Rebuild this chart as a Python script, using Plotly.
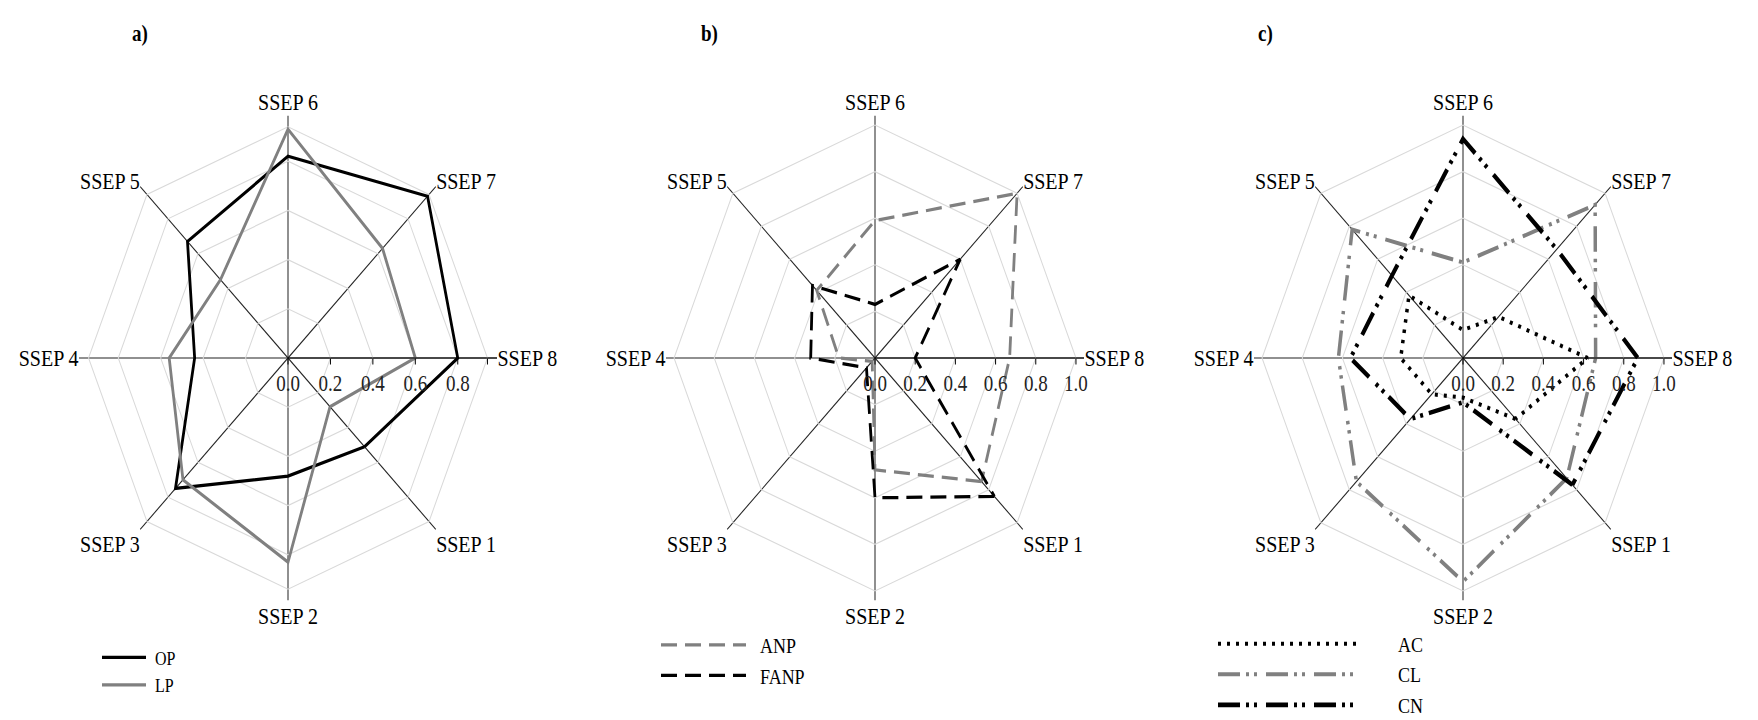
import plotly.graph_objects as go

# Axis categories (clockwise, SSEP 1 in the lower-right)
ssep = ["SSEP 1", "SSEP 2", "SSEP 3", "SSEP 4", "SSEP 5", "SSEP 6", "SSEP 7", "SSEP 8"]

# Panel a)
op = [0.51, 0.48, 0.75, 0.44, 0.67, 0.82, 0.93, 0.80]
lp = [0.28, 0.83, 0.70, 0.56, 0.45, 0.93, 0.63, 0.60]

# Panel b)
anp = [0.75, 0.48, 0.02, 0.18, 0.41, 0.59, 1.00, 0.67]
fanp = [0.84, 0.60, 0.06, 0.32, 0.44, 0.23, 0.60, 0.20]

# Panel c)
ac = [0.37, 0.17, 0.22, 0.31, 0.38, 0.12, 0.25, 0.62]
cl = [0.73, 0.96, 0.75, 0.62, 0.78, 0.41, 0.93, 0.66]
cn = [0.77, 0.19, 0.37, 0.56, 0.50, 0.94, 0.66, 0.87]

# Radial ticks per panel
ticks_a = [0.0, 0.2, 0.4, 0.6, 0.8, 0.94]
labels_a = ["0.0", "0.2", "0.4", "0.6", "0.8", ""]
ticks_bc = [0.0, 0.2, 0.4, 0.6, 0.8, 1.0]
labels_bc = ["0.0", "0.2", "0.4", "0.6", "0.8", "1.0"]

# The page shows the figure stretched vertically (taller than wide)
W, H_PAGE = 1758, 720
H = 621
STRETCH = H_PAGE / H

FONT = "Liberation Serif"
GRAY = "#808080"
DASH = "16px,8px"
DASH_DDOT = "22px,6px,3px,5px,3px,9px"
NBSP = "\u00a0"


def closed(values):
    return values + values[:1], ssep + ssep[:1]


fig = go.Figure()


def add(values, name, color, dash, width, polar, legend, group):
    r, th = closed(values)
    fig.add_trace(go.Scatterpolar(
        r=r, theta=th, mode="lines", name=name,
        line=dict(color=color, dash=dash, width=width),
        subplot=polar, legend=legend, legendgroup=group,
    ))


add(op, NBSP + "OP", "black", "solid", 2.8, "polar", "legend", "op")
add(lp, NBSP + "LP", GRAY, "solid", 2.8, "polar", "legend", "lp")
add(anp, NBSP * 2 + "ANP", GRAY, DASH, 2.8, "polar2", "legend2", "anp")
add(fanp, NBSP * 2 + "FANP", "black", DASH, 2.8, "polar2", "legend2", "fanp")
add(ac, NBSP * 8 + "AC", "black", "3px,6px", 3.5, "polar3", "legend3", "ac")
add(cl, NBSP * 8 + "CL", GRAY, DASH_DDOT, 3.5, "polar3", "legend3", "cl")
add(cn, NBSP * 8 + "CN", "black", DASH_DDOT, 4, "polar3", "legend3", "cn")

R = 209
CY = 358 / STRETCH


def polar_layout(cx, rmax, tickvals, ticktext):
    return dict(
        domain=dict(x=[(cx - R) / W, (cx + R) / W], y=[(H - CY - R) / H, (H - CY + R) / H]),
        gridshape="linear",
        bgcolor="white",
        radialaxis=dict(
            range=[0, rmax], angle=0, tickangle=0, side="clockwise",
            tickvals=tickvals, ticktext=ticktext,
            showline=True, linecolor="black", linewidth=1,
            ticks="outside", ticklen=5, tickcolor="black",
            showgrid=True, gridcolor="#d9d9d9", gridwidth=1,
            tickfont=dict(family=FONT, size=19, color="#222"),
        ),
        angularaxis=dict(
            type="category", categoryorder="array", categoryarray=ssep,
            rotation=-45, direction="clockwise",
            showline=False, ticks="",
            showgrid=True, gridcolor="#222", gridwidth=1,
            tickfont=dict(family=FONT, size=20, color="black"),
        ),
    )


def legend_box(x, top, size, width, gap):
    return dict(
        x=x / W, y=1 - top / H, xanchor="left", yanchor="top",
        font=dict(family=FONT, size=size, color="black"),
        bgcolor="rgba(0,0,0,0)", itemwidth=width, tracegroupgap=gap,
    )


fig.update_layout(
    width=W, height=H,
    margin=dict(l=0, r=0, t=0, b=0, autoexpand=False),
    font=dict(family=FONT),
    paper_bgcolor="white", plot_bgcolor="white",
    polar=polar_layout(288, 0.985, ticks_a, labels_a),
    polar2=polar_layout(875, 1.04, ticks_bc, labels_bc),
    polar3=polar_layout(1463, 1.04, ticks_bc, labels_bc),
    legend=legend_box(97, 550, 16, 44, 0),
    legend2=legend_box(656, 538, 18, 85, 0),
    legend3=legend_box(1213, 537, 18, 139, 0),
    annotations=[
        dict(text="<b>%s</b>" % t, x=x / W, y=1 - 34 / STRETCH / H, xref="paper", yref="paper",
             xanchor="center", yanchor="middle", showarrow=False,
             font=dict(family=FONT, size=19, color="black"))
        for t, x in [("a)", 140), ("b)", 709), ("c)", 1265)]
    ],
)

stretch_js = (
    "document.body.style.margin='0';"
    "document.body.style.overflow='hidden';"
    "var gd=document.getElementById('{plot_id}');"
    "gd.style.transformOrigin='0 0';"
    "gd.style.transform='scaleY(%.5f)';" % STRETCH
)

fig.write_html("out.html", post_script=stretch_js)
